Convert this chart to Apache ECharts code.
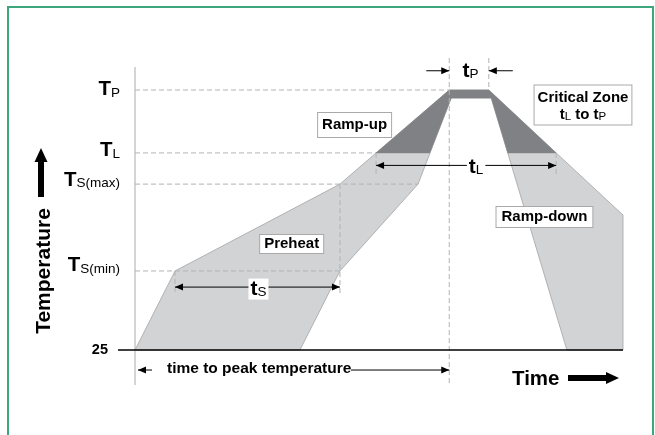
<!DOCTYPE html>
<html><head><meta charset="utf-8">
<script src="https://cdn.jsdelivr.net/npm/echarts@6/dist/echarts.min.js"></script>
<style>html,body{margin:0;padding:0;background:#fff}#c{width:655px;height:435px}</style>
</head><body><div id="c"></div>
<script>
// ---- Diagram values (schematic units: temperature 0 = 25 baseline, 100 = peak; time 0..100) ----
const tempLevelNames  = ['base', 'sMin', 'sMax', 'L', 'P'];
const tempLevelValues = [0, 30.4, 63.8, 75.8, 100];
const tempLevelLabels = ['25', 'S(min)', 'S(max)', 'L', 'P'];

const timeMarkNames  = ['start', 'tsStart', 'tsEnd', 'tlStart', 'tpStart', 'tpEnd', 'tlEnd', 'end'];
const timeMarkValues = [0, 8.2, 42.0, 49.4, 64.4, 72.5, 86.3, 100];

// Reflow profile envelope (outer boundary then inner boundary)
const profileTime = [0, 8.2, 42.0, 49.4, 64.4, 72.5, 86.3, 100, 100, 88.5, 73.0, 64.8, 58.0, 42.0, 33.8];
const profileTemp = [0, 30.4, 63.8, 75.8, 100, 100, 75.8, 51.9, 0, 0, 96.9, 96.9, 63.8, 30.4, 0];

// Critical zone (above T_L)
const criticalTime = [49.4, 64.4, 72.5, 86.3, 76.4, 73.0, 64.8, 60.4];
const criticalTemp = [75.8, 100, 100, 75.8, 75.8, 96.9, 96.9, 75.8];

const zoneLabels = ['Ramp-up', 'Preheat', 'Ramp-down', 'Critical Zone'];

const FONT = '"Liberation Sans", Arial, Helvetica, sans-serif';
const lv = Object.fromEntries(tempLevelNames.map((n, i) => [n, tempLevelValues[i]]));
const tm = Object.fromEntries(timeMarkNames.map((n, i) => [n, timeMarkValues[i]]));

function hline(x1, x2, y, style) { return {type: 'line', shape: {x1: x1, y1: y, x2: x2, y2: y}, style: style}; }
function vline(x, y1, y2, style) { return {type: 'line', shape: {x1: x, y1: y1, x2: x, y2: y2}, style: style}; }
function head(tx, ty, dir) {
  const L = 8, W = 3.5;
  return {type: 'polygon', shape: {points: [[tx, ty], [tx - dir * L, ty - W], [tx - dir * L, ty + W]]}, style: {fill: '#000'}};
}
const solid = {stroke: '#000', lineWidth: 1};

function subText(x, y, main, sub, mainSize, subSize, align, bg) {
  const st = {
    text: '{m|' + main + '}{s|' + sub + '}',
    rich: {
      m: {fontSize: mainSize, fontWeight: 'bold', fontFamily: FONT, lineHeight: mainSize, verticalAlign: 'bottom', fill: '#000'},
      s: {fontSize: subSize, fontWeight: 'normal', fontFamily: FONT, lineHeight: subSize - 1, verticalAlign: 'bottom', fill: '#000'}
    },
    align: align, verticalAlign: 'middle'
  };
  if (bg) { st.backgroundColor = '#fff'; st.padding = [0, 2]; }
  return {type: 'text', x: x, y: y, style: st};
}
function box(x, y, text, padding, rich) {
  return {type: 'text', x: x, y: y, style: {
    text: text, rich: rich, fontSize: 15, fontWeight: 'bold', fontFamily: FONT, fill: '#000',
    align: 'center', verticalAlign: 'middle', backgroundColor: '#fff', borderColor: '#a9a9a9', borderWidth: 1,
    padding: padding, lineHeight: 17
  }};
}

function renderDiagram(params, api) {
  const c = (x, y) => api.coord([x, y]);
  const o = c(tm.start, lv.base);
  const X = (t) => c(t, 0)[0];
  const Y = (v) => c(0, v)[1];
  const ch = [];
  const dash = {stroke: '#b3b3b3', lineWidth: 1, lineDash: [5, 3]};

  // vertical temperature axis line
  ch.push(vline(o[0], Y(lv.P) - 23, o[1] + 35, {stroke: '#ababab', lineWidth: 1}));

  // profile envelope
  ch.push({type: 'polygon', shape: {points: profileTime.map((t, i) => c(t, profileTemp[i]))},
    style: {fill: '#d2d3d5', stroke: '#a2a3a5', lineWidth: 0.8}});
  ch.push({type: 'polygon', shape: {points: criticalTime.map((t, i) => c(t, criticalTemp[i]))},
    style: {fill: '#808184', stroke: '#808184', lineWidth: 0.5}});

  // dashed guides
  ch.push(hline(o[0], X(tm.tpStart), Y(lv.P), dash));
  ch.push(hline(o[0], X(tm.tlStart), Y(lv.L), dash));
  ch.push(hline(o[0], X(profileTime[12]), Y(lv.sMax), dash));
  ch.push(hline(o[0], X(profileTime[13]), Y(lv.sMin), dash));

  const yTs = Y(24.2), yTl = Y(71.0), yTp = Y(107.4), yPeak = Y(-7.7);
  ch.push(vline(X(tm.tsStart), Y(lv.sMin), yTs + 7, dash));
  ch.push(vline(X(tm.tsEnd), Y(lv.sMax), yTs + 8, dash));
  ch.push(vline(X(tm.tlStart), Y(lv.L), yTl + 9, dash));
  ch.push(vline(X(tm.tlEnd), Y(lv.L), yTl + 9, dash));
  ch.push(vline(X(tm.tpStart), Y(lv.P) - 32, o[1] + 35, dash));
  ch.push(vline(X(tm.tpEnd), Y(lv.P) - 32, Y(lv.P), dash));

  // baseline
  ch.push(hline(o[0] - 17, X(tm.end), o[1], {stroke: '#000', lineWidth: 1.5}));

  // t_S dimension
  ch.push(hline(X(tm.tsStart), X(tm.tsEnd), yTs, solid));
  ch.push(head(X(tm.tsStart), yTs, -1), head(X(tm.tsEnd), yTs, 1));
  ch.push(subText(c(25.3, 0)[0], yTs + 2, 't', 'S', 21, 13.5, 'center', true));

  // t_L dimension
  ch.push(hline(X(tm.tlStart), X(tm.tlEnd), yTl, solid));
  ch.push(head(X(tm.tlStart), yTl, -1), head(X(tm.tlEnd), yTl, 1));
  ch.push(subText(c(69.9, 0)[0], yTl + 1.5, 't', 'L', 21, 13.5, 'center', true));

  // t_P dimension
  ch.push(hline(X(tm.tpStart) - 23, X(tm.tpStart), yTp, solid), head(X(tm.tpStart), yTp, 1));
  ch.push(hline(X(tm.tpEnd) + 24, X(tm.tpEnd), yTp, solid), head(X(tm.tpEnd), yTp, -1));
  ch.push(subText((X(tm.tpStart) + X(tm.tpEnd)) / 2 + 1.5, yTp, 't', 'P', 21, 13.5, 'center', false));

  // time to peak temperature
  ch.push(hline(o[0] + 3, o[0] + 17, yPeak, solid), head(o[0] + 3, yPeak, -1));
  ch.push({type: 'text', x: o[0] + 32, y: yPeak - 1, style: {text: 'time to peak temperature', fontSize: 15.5,
    fontWeight: 'bold', fontFamily: FONT, fill: '#000', align: 'left', verticalAlign: 'middle'}});
  ch.push(hline(o[0] + 216, X(tm.tpStart), yPeak, solid), head(X(tm.tpStart), yPeak, 1));

  // temperature level labels
  const lblShift = {sMin: -5, sMax: -4, L: -2, P: 0};
  tempLevelNames.forEach((n, i) => {
    if (n === 'base') {
      ch.push({type: 'text', x: o[0] - 27, y: Y(lv.base), style: {text: tempLevelLabels[i], fontSize: 14.5, fontWeight: 'bold',
        fontFamily: FONT, fill: '#000', align: 'right', verticalAlign: 'middle'}});
    } else {
      ch.push(subText(o[0] - 15, Y(lv[n]) + lblShift[n], 'T', tempLevelLabels[i], 20.5, 13.5, 'right', false));
    }
  });

  // zone labels
  ch.push(box(c(45.0, 0)[0], Y(86.5), zoneLabels[0], [4, 4, 3, 4]));
  ch.push(box(c(32.1, 0)[0], Y(40.8), zoneLabels[1], [1, 4, 0, 4]));
  ch.push(box(c(83.9, 0)[0], Y(51.2), zoneLabels[2], [2, 5, 1, 5]));
  ch.push(box(c(91.8, 0)[0], Y(94.2), '{b|' + zoneLabels[3] + '}\n{b|t}{s|L}{b| to t}{s|P}', [3, 3, 2, 3], {
    b: {fontSize: 15, fontWeight: 'bold', fontFamily: FONT, lineHeight: 17, verticalAlign: 'bottom'},
    s: {fontSize: 11.5, fontWeight: 'normal', fontFamily: FONT, lineHeight: 13, verticalAlign: 'bottom'}
  }));

  return {type: 'group', children: ch};
}

const chart = echarts.init(document.getElementById('c'));
chart.setOption({
  animation: false,
  backgroundColor: '#fff',
  grid: {left: 135, right: 32, top: 90, bottom: 85},
  xAxis: {type: 'value', min: 0, max: 100, show: false},
  yAxis: {type: 'value', min: 0, max: 100, show: false},
  graphic: [
    {type: 'rect', shape: {x: 8, y: 7, width: 645, height: 440}, style: {fill: 'none', stroke: '#3ea67c', lineWidth: 2}, silent: true},
    {type: 'text', x: 44, y: 271, rotation: Math.PI / 2, style: {text: 'Temperature', fontSize: 21, fontWeight: 'bold',
      fontFamily: FONT, fill: '#000', align: 'center', verticalAlign: 'middle'}},
    {type: 'rect', shape: {x: 38, y: 161, width: 6, height: 36}, style: {fill: '#000'}},
    {type: 'polygon', shape: {points: [[34.5, 162], [47.5, 162], [41, 148]]}, style: {fill: '#000'}},
    {type: 'text', x: 512, y: 379, style: {text: 'Time', fontSize: 20.5, fontWeight: 'bold', fontFamily: FONT,
      fill: '#000', align: 'left', verticalAlign: 'middle'}},
    {type: 'rect', shape: {x: 568, y: 375, width: 39, height: 6}, style: {fill: '#000'}},
    {type: 'polygon', shape: {points: [[606, 372], [606, 384], [619, 378]]}, style: {fill: '#000'}}
  ],
  series: [{
    type: 'custom',
    coordinateSystem: 'cartesian2d',
    clip: false,
    silent: true,
    data: [[0, 0]],
    renderItem: renderDiagram
  }]
});
</script></body></html>
